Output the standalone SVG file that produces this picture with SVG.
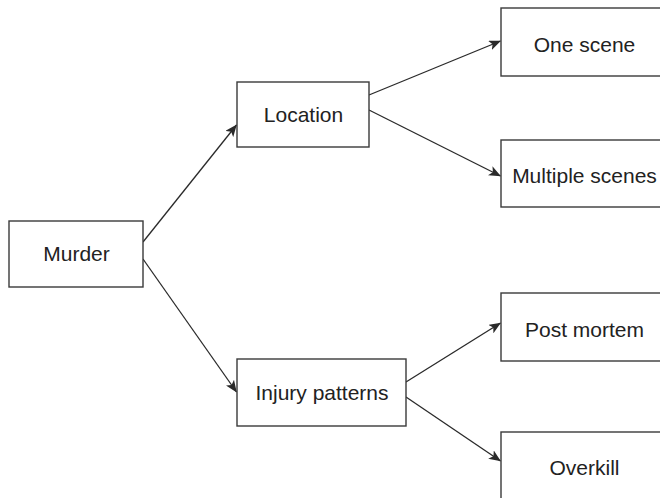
<svg xmlns="http://www.w3.org/2000/svg" width="660" height="498" viewBox="0 0 660 498">
  <style>
    .box { fill: #ffffff; stroke: #3a3a3a; stroke-width: 1.4; }
    .label { font-family: "Liberation Sans", Arial, sans-serif; font-size: 21px; fill: #222222; text-anchor: middle; }
    .edge { stroke: #2a2a2a; stroke-width: 1.3; fill: none; marker-end: url(#arrow); }
  </style>
  <defs>
    <marker id="arrow" viewBox="0 0 12 10" refX="11.5" refY="5" markerWidth="12" markerHeight="10" markerUnits="userSpaceOnUse" orient="auto">
      <path d="M0,0 L12,5 L0,10 L3,5 Z" fill="#2a2a2a"/>
    </marker>
  </defs>
  <rect width="660" height="498" fill="#ffffff"/>

  <g id="connectors">
    <line class="edge" x1="143" y1="242" x2="236.5" y2="125"/>
    <line class="edge" x1="143" y1="259" x2="236.5" y2="392"/>
    <line class="edge" x1="369" y1="95" x2="500.5" y2="41"/>
    <line class="edge" x1="369" y1="110" x2="500.5" y2="176"/>
    <line class="edge" x1="406" y1="382" x2="500.5" y2="323"/>
    <line class="edge" x1="406" y1="397" x2="500.5" y2="461"/>
  </g>

  <g id="murder">
    <rect class="box" x="9" y="221" width="134" height="66"/>
    <text class="label" x="76.5" y="261">Murder</text>
  </g>

  <g id="location">
    <rect class="box" x="237" y="82" width="132" height="65"/>
    <text class="label" x="303.5" y="122">Location</text>
  </g>

  <g id="injury-patterns">
    <rect class="box" x="237" y="359" width="169" height="67"/>
    <text class="label" x="322" y="400">Injury patterns</text>
  </g>

  <g id="one-scene">
    <rect class="box" x="501" y="8" width="170" height="68"/>
    <text class="label" x="584.5" y="52">One scene</text>
  </g>

  <g id="multiple-scenes">
    <rect class="box" x="501" y="140" width="170" height="67"/>
    <text class="label" x="584.5" y="183">Multiple scenes</text>
  </g>

  <g id="post-mortem">
    <rect class="box" x="501" y="293" width="170" height="68"/>
    <text class="label" x="584.5" y="337">Post mortem</text>
  </g>

  <g id="overkill">
    <rect class="box" x="501" y="432" width="170" height="80"/>
    <text class="label" x="584.5" y="475">Overkill</text>
  </g>
</svg>
